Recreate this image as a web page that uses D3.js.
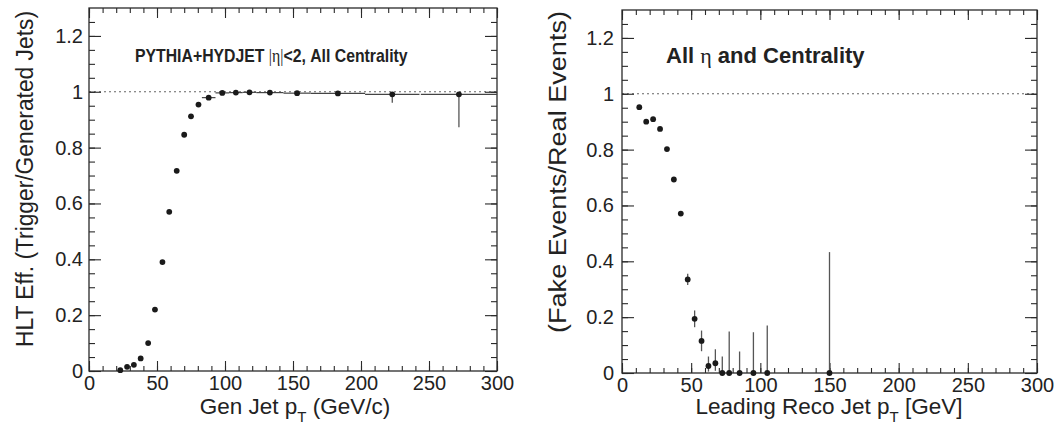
<!DOCTYPE html>
<html>
<head>
<meta charset="utf-8">
<script src="https://cdn.jsdelivr.net/npm/d3@7"></script>
<style>
  body { margin: 0; background: #fff; }
  text { font-family: "Liberation Sans", Arial, Helvetica, sans-serif; fill: #222; }
</style>
</head>
<body>
<svg id="chart" width="1057" height="428"></svg>
<script>
// Left: HLT efficiency vs gen jet pT
const effX    = [23, 28, 33, 38, 43.5, 48.5, 54, 59, 64.5, 70, 75, 80.5, 88, 98, 108, 118, 133, 153, 183, 223, 272];
const effY    = [0.003, 0.015, 0.022, 0.045, 0.10, 0.22, 0.39, 0.57, 0.717, 0.846, 0.912, 0.954, 0.979, 0.996, 0.997, 0.998, 0.997, 0.995, 0.994, 0.991, 0.991];
const effXErr = [0, 0, 0, 0, 0, 0, 0, 0, 0, 0, 0, 0, 5, 5, 5, 5, 10, 10, 20, 20, 28];
const effErrLo = [0, 0, 0, 0, 0, 0, 0, 0, 0, 0, 0, 0, 0, 0, 0, 0, 0, 0, 0, 0.03, 0.118];
const effErrHi = [0, 0, 0, 0, 0, 0, 0, 0, 0, 0, 0, 0, 0, 0, 0, 0, 0, 0, 0, 0, 0];

// Right: fake rate vs leading reco jet pT
const fakeX     = [12.5, 17.5, 22.5, 27.5, 32.5, 37.5, 42.5, 47.5, 52.5, 57.5, 62.5, 67.5, 72.5, 77.5, 85, 95, 105, 150];
const fakeY     = [0.952, 0.900, 0.909, 0.874, 0.802, 0.693, 0.571, 0.335, 0.194, 0.115, 0.025, 0.035, 0, 0, 0, 0, 0, 0];
const fakeErrLo = [0, 0, 0, 0, 0, 0, 0.008, 0.02, 0.03, 0.037, 0.02, 0.027, 0, 0, 0, 0, 0, 0];
const fakeErrHi = [0, 0, 0, 0, 0, 0, 0.008, 0.02, 0.03, 0.037, 0.034, 0.05, 0.059, 0.149, 0.077, 0.146, 0.170, 0.433];

// axes
const xMajor = [0, 50, 100, 150, 200, 250, 300];
const xMinor = d3.range(0, 301, 10);
const yMajor = [0, 0.2, 0.4, 0.6, 0.8, 1, 1.2];
const yMinor = d3.range(0, 1.3, 0.05);

const svg = d3.select('#chart');
const ink = '#2a2a2a';

function drawPanel(box, opts) {
  const x = d3.scaleLinear().domain([0, 300]).range([box.x0, box.x1]);
  const y = d3.scaleLinear().domain([0, 1.3]).range([box.y1, box.y0]);
  const g = svg.append('g');
  const w = box.x1 - box.x0, h = box.y1 - box.y0;

  // reference line at 1
  g.append('line')
    .attr('x1', box.x0).attr('x2', box.x1)
    .attr('y1', y(1)).attr('y2', y(1))
    .attr('stroke', '#666').attr('stroke-width', 1.2)
    .attr('stroke-dasharray', '2,3');

  // ticks (inside, mirrored on all four sides)
  const addAxis = (axis, tx, ty, labels) => {
    const a = g.append('g').attr('transform', `translate(${tx},${ty})`).call(axis);
    a.select('.domain').remove();
    a.selectAll('line').attr('stroke', ink).attr('stroke-width', 1.1);
    if (!labels) a.selectAll('text').remove();
    else a.selectAll('text').style('font-size', '20px').attr('fill', '#222');
    return a;
  };
  const fmt = d3.format('~g');
  addAxis(d3.axisBottom(x).tickValues(xMinor).tickSize(-5).tickFormat(''), 0, box.y1, false);
  addAxis(d3.axisBottom(x).tickValues(xMajor).tickSize(-10).tickPadding(5).tickFormat(fmt), 0, box.y1, true);
  addAxis(d3.axisTop(x).tickValues(xMinor).tickSize(-5).tickFormat(''), 0, box.y0, false);
  addAxis(d3.axisTop(x).tickValues(xMajor).tickSize(-10).tickFormat(''), 0, box.y0, false);
  addAxis(d3.axisLeft(y).tickValues(yMinor).tickSize(-6).tickFormat(''), box.x0, 0, false);
  addAxis(d3.axisLeft(y).tickValues(yMajor).tickSize(-12).tickPadding(opts.yPad).tickFormat(fmt), box.x0, 0, true);
  addAxis(d3.axisRight(y).tickValues(yMinor).tickSize(-6).tickFormat(''), box.x1, 0, false);
  addAxis(d3.axisRight(y).tickValues(yMajor).tickSize(-12).tickFormat(''), box.x1, 0, false);

  // frame
  g.append('rect')
    .attr('x', box.x0).attr('y', box.y0).attr('width', w).attr('height', h)
    .attr('fill', 'none').attr('stroke', ink).attr('stroke-width', 1.3);

  // data
  const pts = opts.xs.map((v, i) => ({
    x: v, y: opts.ys[i],
    xe: opts.xerr ? opts.xerr[i] : 0,
    lo: opts.lo[i], hi: opts.hi[i]
  }));
  g.selectAll('line.xe').data(pts.filter(d => d.xe > 0)).join('line')
    .attr('x1', d => x(d.x - d.xe)).attr('x2', d => x(d.x + d.xe))
    .attr('y1', d => y(d.y)).attr('y2', d => y(d.y))
    .attr('stroke', '#444').attr('stroke-width', 1.2);
  g.selectAll('line.ye').data(pts.filter(d => d.lo > 0 || d.hi > 0)).join('line')
    .attr('x1', d => x(d.x)).attr('x2', d => x(d.x))
    .attr('y1', d => y(d.y - d.lo)).attr('y2', d => y(d.y + d.hi))
    .attr('stroke', '#555').attr('stroke-width', 1.3);
  g.selectAll('circle').data(pts).join('circle')
    .attr('cx', d => x(d.x)).attr('cy', d => y(d.y)).attr('r', 2.9)
    .attr('fill', '#1a1a1a');

  // axis titles
  const xt = g.append('text')
    .attr('x', opts.xTitleX).attr('y', 414)
    .attr('text-anchor', 'middle').style('font-size', '22.5px');
  xt.append('tspan').text(opts.xTitle[0]);
  xt.append('tspan').text('T').style('font-size', '15px').attr('dy', 8);
  xt.append('tspan').text(opts.xTitle[1]).attr('dy', -8);

  g.append('text')
    .attr('transform', `translate(${opts.yTitleX},${opts.yTitleY}) rotate(-90)`)
    .attr('text-anchor', 'middle')
    .attr('textLength', opts.yTitleLen).attr('lengthAdjust', 'spacingAndGlyphs')
    .style('font-size', '23px')
    .text(opts.yTitle);
  return { x, y, g };
}

const left = drawPanel({ x0: 89, x1: 497, y0: 8, y1: 371 }, {
  xs: effX, ys: effY, xerr: effXErr, lo: effErrLo, hi: effErrHi,
  yPad: 6,
  xTitle: ['Gen Jet p', ' (GeV/c)'], xTitleX: 295,
  yTitle: 'HLT Eff. (Trigger/Generated Jets)', yTitleX: 33, yTitleY: 179, yTitleLen: 336
});

const right = drawPanel({ x0: 622, x1: 1037, y0: 10, y1: 373 }, {
  xs: fakeX, ys: fakeY, lo: fakeErrLo, hi: fakeErrHi,
  yPad: 8,
  xTitle: ['Leading Reco Jet p', ' [GeV]'], xTitleX: 829,
  yTitle: '(Fake Events/Real Events)', yTitleX: 566, yTitleY: 172, yTitleLen: 322
});

// annotations (left one is condensed horizontally, as in the original)
const a1 = left.g.append('text')
  .style('font-size', '19px').style('font-weight', 'bold');
a1.append('tspan').text('PYTHIA+HYDJET ');
a1.append('tspan').text('|η|').style('font-weight', 'normal').style('font-family', '"Liberation Serif", serif');
a1.append('tspan').text('<2, All Centrality');
const a1w = a1.node().getBBox().width;
a1.attr('transform', `translate(135,62) scale(${273 / a1w},1)`);

const a2 = right.g.append('text')
  .attr('x', 666).attr('y', 63)
  .style('font-size', '22px').style('font-weight', 'bold');
a2.append('tspan').text('All ');
a2.append('tspan').text('η').style('font-weight', 'normal').style('font-family', '"Liberation Serif", serif');
a2.append('tspan').text(' and Centrality');
</script>
</body>
</html>
